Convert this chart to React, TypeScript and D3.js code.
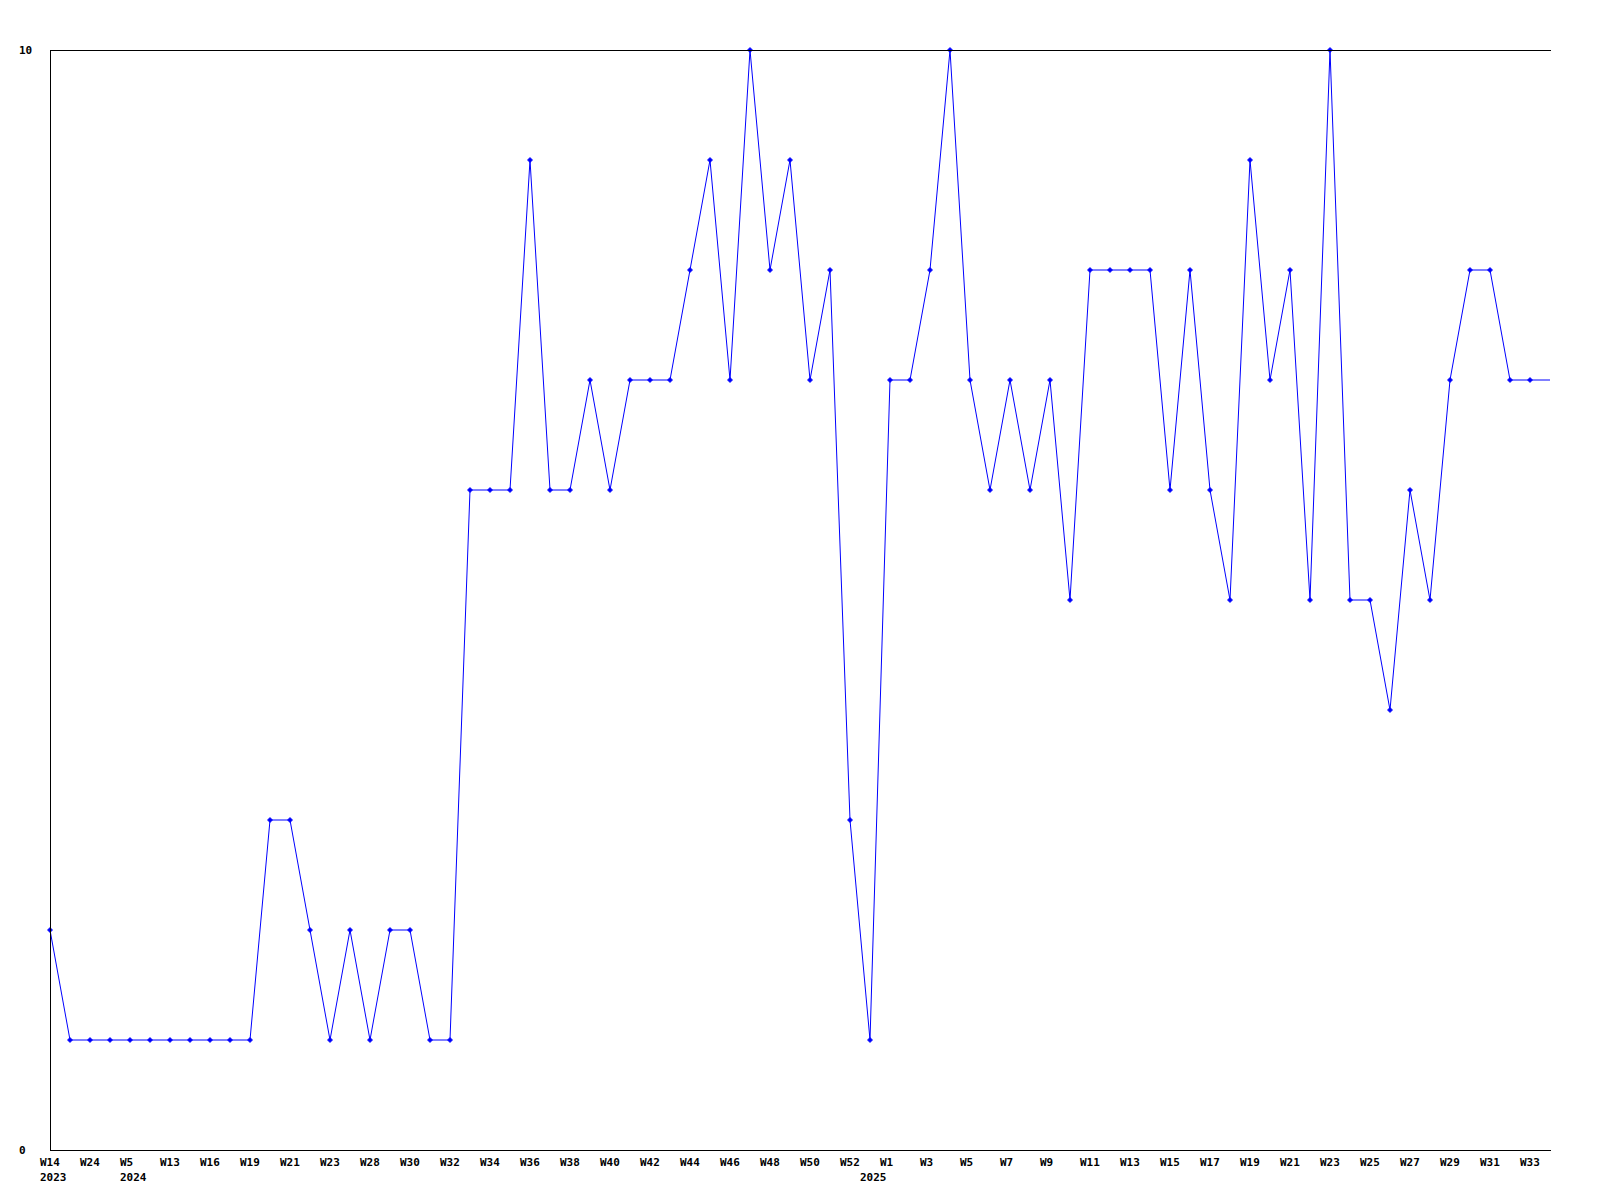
import React from "react";
import * as d3 from "d3";

const values: number[] = [
  2, 1, 1, 1, 1, 1, 1, 1, 1, 1, 1, 3, 3, 2, 1, 2, 1, 2, 2, 1,
  1, 6, 6, 6, 9, 6, 6, 7, 6, 7, 7, 7, 8, 9, 7, 10, 8, 9, 7, 8,
  3, 1, 7, 7, 8, 10, 7, 6, 7, 6, 7, 5, 8, 8, 8, 8, 6, 8, 6, 5,
  9, 7, 8, 5, 10, 5, 5, 4, 6, 5, 7, 8, 8, 7, 7, 7,
];

const tickLabels: string[] = [
  "W14", "W24", "W5", "W13", "W16", "W19", "W21", "W23", "W28", "W30",
  "W32", "W34", "W36", "W38", "W40", "W42", "W44", "W46", "W48", "W50",
  "W52", "W1", "W3", "W5", "W7", "W9", "W11", "W13", "W15", "W17",
  "W19", "W21", "W23", "W25", "W27", "W29", "W31", "W33",
];

const yearIndices: number[] = [0, 4, 41];
const yearLabels: string[] = ["2023", "2024", "2025"];

const yTicks: number[] = [0, 10];

const W = 1600;
const H = 1200;
const left = 50;
const right = 1550;
const top = 50;
const bottom = 1150;
const FONT = "'DejaVu Sans Mono', 'Liberation Mono', monospace";

export default function App() {
  const x = d3.scaleLinear().domain([0, values.length - 1]).range([left, right]);
  const y = d3.scaleLinear().domain([0, 10]).range([bottom, top]);
  const line = d3
    .line<number>()
    .x((_, i) => x(i))
    .y((d) => y(d));

  return (
    <svg
      width={W}
      height={H}
      style={{ position: "absolute", left: 0, top: 0, background: "#fff" }}
    >
      <rect x={0} y={0} width={W} height={H} fill="#fff" />
      <path
        d={line(values) || ""}
        fill="none"
        stroke="#0000ff"
        strokeWidth={1}
      />
      {values.slice(0, values.length - 1).map((v, i) => {
        const cx = x(i);
        const cy = y(v);
        return (
          <path
            key={i}
            d={`M${cx - 2.5},${cy}L${cx},${cy - 2.5}L${cx + 2.5},${cy}L${cx},${cy + 2.5}Z`}
            fill="#0000ff"
            stroke="#0000ff"
            strokeWidth={0.8}
          />
        );
      })}
      <g shapeRendering="crispEdges" stroke="#000" strokeWidth={1}>
        <line x1={left + 0.5} x2={left + 0.5} y1={top} y2={bottom + 1} />
        <line x1={left} x2={right + 1} y1={bottom + 0.5} y2={bottom + 0.5} />
        <line x1={left} x2={right + 1} y1={top + 0.5} y2={top + 0.5} />
      </g>
      <g fontFamily={FONT} fontWeight="bold" fontSize={11} fill="#000">
        {yTicks.map((t) => (
          <text key={t} x={19} y={y(t)} dominantBaseline="central">
            {t}
          </text>
        ))}
        {tickLabels.map((lab, k) => (
          <text key={k} x={x(k * 2) - 10} y={1162} dominantBaseline="central">
            {lab}
          </text>
        ))}
        {yearLabels.map((lab, k) => (
          <text key={lab} x={x(yearIndices[k]) - 10} y={1177} dominantBaseline="central">
            {lab}
          </text>
        ))}
      </g>
    </svg>
  );
}
